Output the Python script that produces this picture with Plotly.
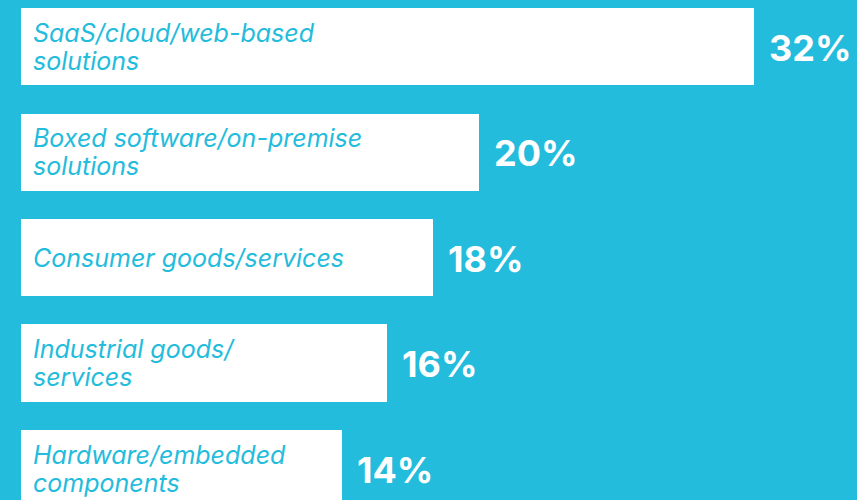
import plotly.graph_objects as go

# Survey categories (top to bottom) and their shares in percent
categories = [
    "SaaS/cloud/web-based<br>solutions",
    "Boxed software/on-premise<br>solutions",
    "Consumer goods/services",
    "Industrial goods/<br>services",
    "Hardware/embedded<br>components",
]
shares = [32, 20, 18, 16, 14]

BG = "#23BCDC"
WHITE = "#FFFFFF"

LABEL_PX = 25        # glyph size of the category names
LINE_BASE_PX = 21.4  # base font size, sets the (tight) line pitch of wrapped names

positions = list(range(len(categories)))

fig = go.Figure(
    go.Bar(
        x=shares,
        y=positions,
        orientation="h",
        width=0.73,
        marker=dict(color=WHITE, line=dict(width=0)),
        hoverinfo="skip",
    )
)


def styled(label):
    parts = label.split("<br>")
    return "<br>".join(
        f"<span style='font-size:{LABEL_PX}px'>{p}</span>" for p in parts
    )


annotations = []
for pos, label, val in zip(positions, categories, shares):
    # category name inside the bar
    annotations.append(
        dict(
            x=0, y=pos, xref="x", yref="y",
            text=styled(label), showarrow=False,
            xanchor="left", yanchor="middle", align="left",
            xshift=10, yshift=0,
            font=dict(family="Inter", size=LINE_BASE_PX, color=BG, style="italic"),
        )
    )
    # percentage just past the bar end
    annotations.append(
        dict(
            x=val, y=pos, xref="x", yref="y",
            text=f"{val}%", showarrow=False,
            xanchor="left", yanchor="middle",
            xshift=13, yshift=-1,
            font=dict(family="Inter", size=36, color=WHITE, weight="bold"),
        )
    )

px_per_unit = 22.9
left_px = 21
fig.update_layout(
    width=857, height=500,
    margin=dict(l=0, r=0, t=0, b=0),
    paper_bgcolor=BG, plot_bgcolor=BG,
    showlegend=False,
    bargap=0,
    xaxis=dict(
        range=[-left_px / px_per_unit, (857 - left_px) / px_per_unit],
        visible=False, fixedrange=True,
    ),
    yaxis=dict(
        range=[4.2986, -0.4408],
        visible=False, fixedrange=True,
    ),
    annotations=annotations,
)

fig.write_html("out.html")
